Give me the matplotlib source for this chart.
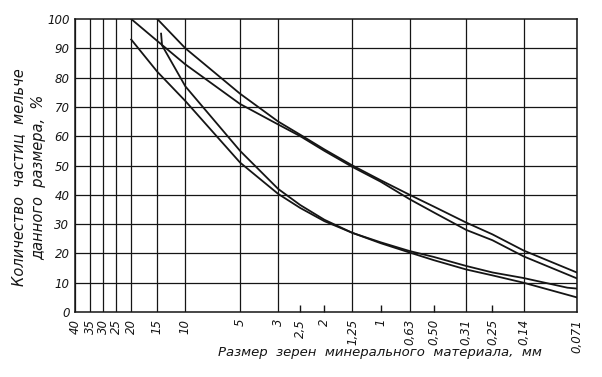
import numpy as np
import matplotlib
matplotlib.use("Agg")
import matplotlib.pyplot as plt

# ----------------------------
# Data
# ----------------------------
# sieve sizes on the x axis, mm
grid_sizes  = [40, 35, 30, 25, 20, 15, 10, 5, 3, 1.25, 0.63, 0.31, 0.14, 0.071]
grid_labels = ["40", "35", "30", "25", "20", "15", "10", "5", "3",
               "1,25", "0,63", "0,31", "0,14", "0,071"]
minor_sizes  = [2.5, 2, 1, 0.5, 0.25]
minor_labels = ["2,5", "2", "1", "0,50", "0,25"]

# upper pair of grading curves
upper_a_size = [15, 10, 5, 3, 2.5, 2, 1.25, 1, 0.63, 0.5, 0.31, 0.25, 0.14, 0.071]
upper_a_pct  = [100, 90, 74.5, 65, 60.5, 55.5, 50, 45, 40, 36, 30.5, 26.5, 21, 13.5]

upper_b_size = [20, 15, 10, 5, 3, 2.5, 2, 1.25, 1, 0.63, 0.5, 0.31, 0.25, 0.14, 0.071]
upper_b_pct  = [100, 92.5, 84.5, 71, 64, 60, 55, 49.5, 44.5, 38.5, 34, 28, 24.5, 19, 11.5]

# lower pair of grading curves
lower_a_size = [14.2, 14, 10, 5, 3, 2.5, 2, 1.25, 1, 0.63, 0.5, 0.31, 0.25, 0.14, 0.08, 0.071]
lower_a_pct  = [95, 91, 77, 55, 42, 36.5, 31.5, 27, 23.8, 20.8, 18.8, 15.7, 13.5, 11.6, 8.3, 8]

lower_b_size = [20, 15, 10, 5, 3, 2.5, 2, 1.25, 1, 0.63, 0.5, 0.31, 0.25, 0.14, 0.071]
lower_b_pct  = [93, 82, 72, 51, 40.3, 35.5, 31, 27, 23.5, 20.3, 17.7, 14.5, 12.5, 10, 5]

# ----------------------------
# X scale: the printed axis is only roughly logarithmic,
# so calibrate it against where each sieve sits (fraction of axis width from the right)
# ----------------------------
cal_size = [0.071, 0.14, 0.25, 0.31, 0.5, 0.63, 1, 1.25, 2, 2.5, 3, 5, 10, 15, 20, 25, 30, 35, 40]
cal_frac = [0.000, 0.106, 0.168, 0.220, 0.285, 0.333, 0.391, 0.447, 0.503, 0.551,
            0.595, 0.671, 0.780, 0.836, 0.888, 0.918, 0.944, 0.970, 1.000]
cal_log = np.log10(cal_size)


def forward(d):
    d = np.clip(np.asarray(d, dtype=float), 1e-6, None)
    return np.interp(np.log10(d), cal_log, cal_frac)


def inverse(f):
    f = np.asarray(f, dtype=float)
    return 10 ** np.interp(f, cal_frac, cal_log)


# ----------------------------
# Figure
# ----------------------------
plt.rcParams["font.family"] = ["DejaVu Sans"]
plt.rcParams["font.style"] = "italic"

fig = plt.figure(figsize=(6.02, 3.77), dpi=100)
ax = fig.add_axes([0.1246, 0.1724, 0.958 - 0.1246, 0.9496 - 0.1724])
ax.set_xscale("function", functions=(forward, inverse))
ax.set_xlim(40, 0.071)
ax.set_ylim(0, 100)

ink = "#151515"
for s in grid_sizes:
    ax.axvline(s, color=ink, lw=0.9, zorder=1)
for p in range(10, 100, 10):
    ax.axhline(p, color=ink, lw=0.9, zorder=1)

for sz, pct in [(upper_a_size, upper_a_pct), (upper_b_size, upper_b_pct),
                (lower_a_size, lower_a_pct), (lower_b_size, lower_b_pct)]:
    ax.plot(sz, pct, color=ink, lw=1.3, zorder=3)

for sp in ax.spines.values():
    sp.set_color(ink)
    sp.set_linewidth(1.1)

ax.set_xticks(grid_sizes, grid_labels)
ax.set_xticks(minor_sizes, minor_labels, minor=True)
ax.tick_params(axis="x", which="major", length=0, pad=5, labelrotation=90,
               labelsize=8.5, colors=ink)
ax.tick_params(axis="x", which="minor", direction="in", length=5, width=1,
               pad=5, labelrotation=90, labelsize=8.5, colors=ink)
for lab in ax.get_xticklabels(which="both"):
    lab.set_verticalalignment("top")

ax.set_yticks(range(0, 101, 10))
ax.tick_params(axis="y", length=0, pad=4, labelsize=8.5, colors=ink)

fig.text(0.031, 0.53, "Количество  частиц  мельче", rotation=90,
         ha="center", va="center", fontsize=10.5, color=ink)
fig.text(0.064, 0.53, "данного  размера,  %", rotation=90,
         ha="center", va="center", fontsize=10.5, color=ink)
fig.text(0.631, 0.066, "Размер  зерен  минерального  материала,  мм",
         ha="center", va="center", fontsize=9.5, color=ink)

fig.savefig("out.png", dpi=100)
